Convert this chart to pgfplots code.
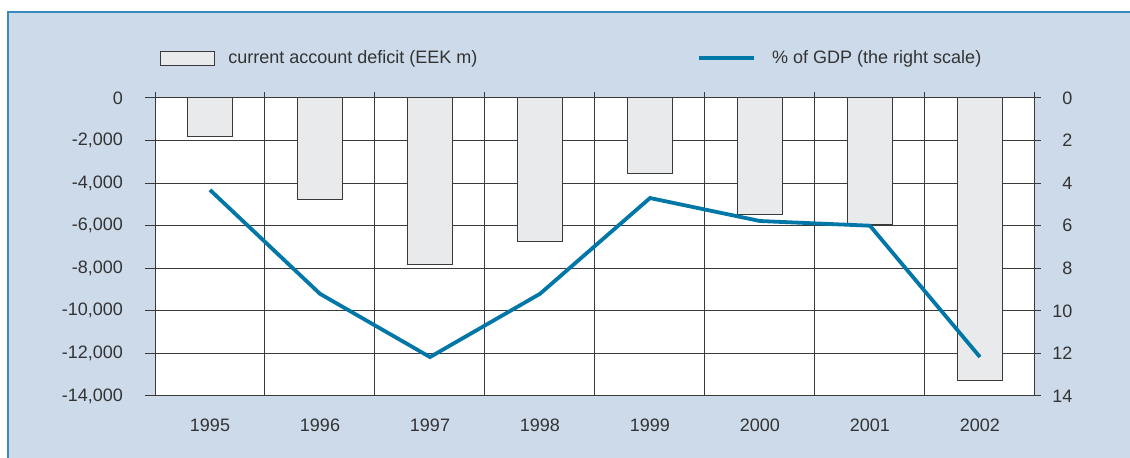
\documentclass[border=0pt]{standalone}
\usepackage{pgfplots}
\pgfplotsset{compat=1.18}
\usepackage{fontspec}
\setmainfont{Liberation Sans}
\definecolor{bgblue}{HTML}{CDDAEA}
\definecolor{frameblue}{HTML}{3A8AC2}
\definecolor{txt}{HTML}{333333}
\definecolor{gridc}{HTML}{3A3A3A}
\definecolor{barfill}{HTML}{E9EAEC}
\definecolor{linec}{HTML}{0077A6}
\pgfplotstableread{
x val
0 -1790
1 -4790
2 -7800
3 -6760
4 -3570
5 -5450
6 -5920
7 -13250
}\deficit
\pgfplotstableread{
x pct
0 4.32
1 9.2
2 12.17
3 9.2
4 4.7
5 5.78
6 6.0
7 12.17
}\gdp
\begin{document}
\begin{tikzpicture}
\path[use as bounding box] (0pt,0pt) rectangle (565pt,-229pt);
\fill[white] (0pt,0pt) rectangle (565pt,-229pt);
\fill[bgblue] (4pt,-6pt) rectangle (565pt,-229pt);
\draw[frameblue, line width=0.75pt] (4pt,-229pt) -- (4pt,-6pt) -- (565pt,-6pt);
\begin{axis}[
  at={(77.5pt,-198pt)}, anchor=south west,
  scale only axis, width=440pt, height=149pt,
  xmin=-0.5, xmax=7.5, ymin=-14000, ymax=0,
  axis background/.style={fill=white},
  axis line style={gridc, line width=0.5pt},
  font=\fontsize{9pt}{11pt}\selectfont, 
  xtick={-0.5,0.5,...,7.5},
  xticklabels={},
  xmajorgrids, major x grid style={gridc, line width=0.5pt},
  xtick pos=right,
  x tick style={gridc, line width=0.5pt},
  extra x ticks={0,...,7},
  extra x tick labels={1995,1996,1997,1998,1999,2000,2001,2002},
  extra x tick style={major tick length=0pt, xticklabel pos=left, grid=none,
     tick style={draw=none}},
  xticklabel style={text=txt, yshift=-8pt},
  ytick={-14000,-12000,...,0},
  scaled y ticks=false,
  ymajorgrids, major y grid style={gridc, line width=0.5pt},
  ytick pos=left,
  y tick style={gridc, line width=0.5pt, /pgfplots/major tick length=5pt},
  tick align=outside,
  major tick length=3pt,
  /pgf/number format/assume math mode=true,
  /pgf/number format/1000 sep={,},
  yticklabel style={text=txt, xshift=-9.5pt},
  legend style={draw=none, fill=none, inner sep=0pt, at={(0.00568,1.134)}, anchor=west,
    nodes={inner sep=0pt, text=txt, font=\fontsize{9pt}{11pt}\selectfont},
    /tikz/every odd column/.append style={column sep=6.5pt}},
  legend image code/.code={\draw[#1] (0pt,-3.5pt) rectangle (27pt,3.5pt);},
]
\addplot[ybar, bar width=22.5pt, fill=barfill, draw=gridc, line width=0.5pt] table[x=x,y=val]{\deficit};
\addlegendentry{current account deficit (EEK m)}
\end{axis}
\begin{axis}[
  at={(77.5pt,-198pt)}, anchor=south west,
  scale only axis, width=440pt, height=149pt,
  xmin=-0.5, xmax=7.5, ymin=0, ymax=14, y dir=reverse,
  hide x axis,
  axis line style={gridc, line width=0.5pt},
  font=\fontsize{9pt}{11pt}\selectfont,
  ytick={0,2,...,14},
  ytick pos=right,
  y tick style={gridc, line width=0.5pt},
  tick align=outside,
  major tick length=3pt,
  /pgf/number format/assume math mode=true,
  yticklabel style={text=txt, anchor=west, inner sep=0pt, text width=10pt, align=right, xshift=5.5pt},
  clip=false,
  legend style={draw=none, fill=none, inner sep=0pt, at={(0.6159,1.134)}, anchor=west,
    nodes={inner sep=0pt, text=txt, font=\fontsize{9pt}{11pt}\selectfont},
    /tikz/every odd column/.append style={column sep=8pt}},
  legend image code/.code={\draw[#1] (0pt,0pt) -- (27.5pt,0pt);},
]
\addplot[linec, line width=1.9pt, line join=miter] table[x=x,y=pct]{\gdp};
\addlegendentry{\% of GDP (the right scale)}
\end{axis}
\end{tikzpicture}
\end{document}
